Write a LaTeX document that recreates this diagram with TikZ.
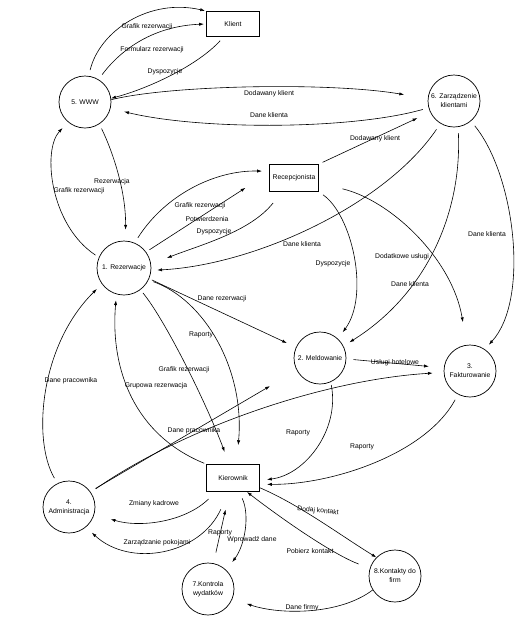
\documentclass[tikz,border=0pt]{standalone}
\usepackage{fontspec}
\setmainfont{Liberation Sans}
\usetikzlibrary{arrows.meta}
\begin{document}
\begin{tikzpicture}[x=1pt,y=-1pt,
  every node/.style={font=\fontsize{6.8}{9}\selectfont},
  proc/.style={circle,draw,minimum size=52pt,inner sep=0pt,align=center,line width=0.7pt},
  ent/.style={rectangle,draw,minimum width=53pt,minimum height=25pt,inner sep=0pt,line width=1pt},
  lbl/.style={inner sep=0pt},
  flow/.style={-{Latex[length=4.8pt,width=3.2pt]},line width=0.6pt}]
\useasboundingbox (0,0) rectangle (532,622);

% nodes
\node[ent] (klient) at (233,24) {Klient};
\node[proc] (www) at (85,102) {5. WWW};
\node[proc] (zarz) at (454,101) {6. Zarządzenie\\klientami};
\node[ent,minimum width=49pt,minimum height=27pt] (recep) at (294,178) {Recepcjonista};
\node[proc,minimum size=54pt] (rez) at (124,268) {1. Rezerwacje};
\node[proc] (meld) at (320,358) {2. Meldowanie};
\node[proc] (fakt) at (470,371) {3.\\Fakturowanie};
\node[proc] (admin) at (69,507) {4.\\Administracja};
\node[ent,minimum height=27pt] (kier) at (233,478) {Kierownik};
\node[proc] (kontr) at (208,589) {7.Kontrola\\wydatków};
\node[proc] (kont) at (395,576) {8.Kontakty do\\firm};

% connectors
\draw[flow,shorten <=6pt,shorten >=1pt] (www.82) .. controls (100,30) and (150,-2) .. (klient.north west);
\draw[flow,shorten <=6pt,shorten >=2pt] (www.59) .. controls (122,48) and (155,26) .. (klient.west);
\draw[flow,shorten <=5pt] (klient.234) .. controls (198,65) and (150,88) .. (www.8);
\draw[flow,shorten >=24pt] (www.5) .. controls (170,85) and (330,82) .. (zarz.175);
\draw[flow,shorten <=6pt,shorten >=14pt] (zarz.195) .. controls (350,130) and (200,130) .. (www.-14);
\draw[flow,shorten <=5pt,shorten >=11pt] (www.-57) .. controls (112,150) and (126,190) .. (rez.87);
\draw[flow,shorten <=4pt,shorten >=8pt] (rez.157) .. controls (50,225) and (42,150) .. (www.230);
\draw[flow,shorten <=6pt,shorten >=7pt] (rez.67) .. controls (165,195) and (215,170) .. (recep.165);
\draw[flow,shorten <=4pt,shorten >=28pt] (rez.36) -- (recep.168);
\draw[flow,shorten <=14pt,shorten >=17pt] (recep.229) .. controls (250,232) and (200,245) .. (rez.8);
\draw[flow,shorten <=7pt,shorten >=6pt] (zarz.239) .. controls (385,205) and (255,265) .. (rez.-5);
\draw[flow,shorten <=4pt,shorten >=14pt] (recep.north east) -- (zarz.205);
\draw[flow,shorten <=5pt,shorten >=8pt] (recep.south east) .. controls (352,215) and (370,295) .. (meld.47);
\draw[flow,shorten <=24pt,shorten >=23pt] (recep.-12) .. controls (390,200) and (452,258) .. (fakt.97);
\draw[flow,shorten <=6pt,shorten >=7pt] (zarz.-81) .. controls (462,215) and (425,295) .. (meld.27);
\draw[flow,shorten <=6pt,shorten >=6pt] (zarz.-50) .. controls (515,175) and (530,300) .. (fakt.56);
\draw[flow,shorten <=3pt,shorten >=10pt] (rez.-23) -- (meld.156);
\draw[flow,shorten <=5pt,shorten >=19pt] (rez.-26) .. controls (205,300) and (245,370) .. (kier.76);
\draw[flow,shorten <=4pt,shorten >=13pt] (rez.-53) .. controls (165,320) and (205,400) .. (kier.105);
\draw[flow,shorten <=2pt,shorten >=6pt] (kier.north west) .. controls (135,435) and (110,370) .. (rez.254);
\draw[flow,shorten <=6pt,shorten >=7pt] (admin.116) .. controls (32,440) and (40,345) .. (rez.216);
\draw[flow,shorten <=6pt,shorten >=31pt] (admin.36) -- (meld.208);
\draw[flow,shorten <=6pt,shorten >=11pt] (admin.34) .. controls (180,430) and (320,380) .. (fakt.183);
\draw[flow,shorten <=7pt,shorten >=15pt] (meld.-2) -- (fakt.173);
\draw[flow,shorten <=3pt,shorten >=7pt] (meld.-66) .. controls (340,430) and (305,475) .. (kier.-5);
\draw[flow,shorten <=6pt,shorten >=7pt] (fakt.243) .. controls (425,455) and (330,485) .. (kier.-13);
\draw[flow] (kier.-20) .. controls (300,505) and (340,535) .. (kont.135);
\draw[flow,shorten <=12pt] (kont.163) .. controls (335,555) and (290,525) .. (kier.-45);
\draw[flow,shorten >=15pt] (kont.212) .. controls (340,615) and (280,615) .. (kontr.-22);
\draw[flow,shorten <=7pt,shorten >=10pt] (kier.-66) .. controls (250,515) and (245,545) .. (kontr.46);
\draw[flow,shorten <=11pt,shorten >=18pt] (kontr.78) -- (kier.256);
\draw[flow,shorten <=10pt,shorten >=17pt] (kier.219) .. controls (185,522) and (140,528) .. (admin.-16);
\draw[flow,shorten <=19pt,shorten >=8pt] (kier.253) .. controls (200,555) and (130,568) .. (admin.-50);

% labels
\node[lbl] (l1) at (147,27) {Grafik rezerwacji};
\node[lbl] (l2) at (152,50) {Formularz rezerwacji};
\node[lbl] (l3) at (165,72) {Dyspozycje};
\node[lbl] (l4) at (269,94) {Dodawany klient};
\node[lbl] (l5) at (269,115) {Dane klienta};
\node[lbl] (l6) at (375,139) {Dodawany klient};
\node[lbl] (l7) at (112,182) {Rezerwacja};
\node[lbl] (l8) at (79,191) {Grafik rezerwacji};
\node[lbl] (l9) at (200,206) {Grafik rezerwacji};
\node[lbl] (l10) at (207,219) {Potwierdzenia};
\node[lbl] (l11) at (214,232) {Dyspozycje};
\node[lbl] (l12) at (302,244) {Dane klienta};
\node[lbl] (l13) at (333,264) {Dyspozycje};
\node[lbl] (l14) at (402,257) {Dodatkowe usługi};
\node[lbl] (l15) at (410,284) {Dane klienta};
\node[lbl] (l16) at (487,234) {Dane klienta};
\node[lbl] (l17) at (222,299) {Dane rezerwacji};
\node[lbl] (l18) at (201,335) {Raporty};
\node[lbl] (l19) at (184,370) {Grafik rezerwacji};
\node[lbl] (l20) at (156,386) {Grupowa rezerwacja};
\node[lbl] (l21) at (71,381) {Dane pracownika};
\node[lbl] (l22) at (194,431) {Dane pracownika};
\node[lbl] (l23) at (395,363) {Usługi hotelowe};
\node[lbl] (l24) at (298,433) {Raporty};
\node[lbl] (l25) at (362,447) {Raporty};
\node[lbl] (l26) at (154,504) {Zmiany kadrowe};
\node[lbl] (l27) at (157,543) {Zarządzanie pokojami};
\node[lbl] (l28) at (220,533) {Raporty};
\node[lbl] (l29) at (252,540) {Wprowadź dane};
\node[lbl,rotate=-6] (l30) at (318,511) {Dodaj kontakt};
\node[lbl] (l31) at (310,551) {Pobierz kontakt};
\node[lbl] (l32) at (302,608) {Dane firmy};
\end{tikzpicture}
\end{document}
